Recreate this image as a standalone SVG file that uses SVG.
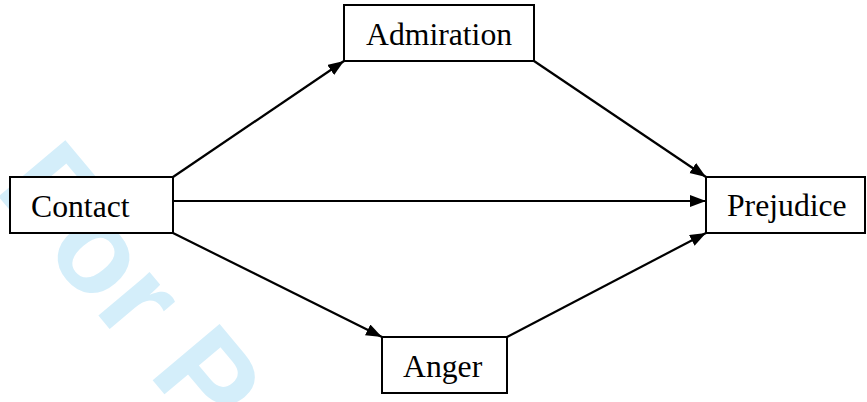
<svg xmlns="http://www.w3.org/2000/svg" width="867" height="402" viewBox="0 0 867 402">
<style>
.box{fill:#fff;stroke:#000;stroke-width:2}
.lbl{font-family:"Liberation Serif","Times New Roman",serif;font-size:31.7px;fill:#000}
.wm{font-family:"Liberation Sans",Arial,sans-serif;font-weight:bold;font-size:127px;fill:#d4eefa}
.edge{stroke:#000;stroke-width:2.2;fill:none;marker-end:url(#arr)}
</style>
<defs>
<marker id="arr" markerUnits="userSpaceOnUse" markerWidth="17" markerHeight="13" refX="16" refY="6" orient="auto">
<path d="M0,0 L16,6 L0,12 z" fill="#000"/>
</marker>
</defs>
<rect width="867" height="402" fill="#fff"/>
<text class="wm" transform="translate(-7,190) rotate(50)">For P</text>
<g id="connectors">
<path class="edge" d="M173,177 L344,61"/>
<path class="edge" d="M534,61 L706,177"/>
<path class="edge" d="M173,201 L706,201"/>
<path class="edge" d="M173,233 L382,337"/>
<path class="edge" d="M507,337 L706,233"/>
</g>
<g id="contact">
<rect class="box" x="10" y="177" width="163" height="56"/>
<text class="lbl" x="31" y="217">Contact</text>
</g>
<g id="admiration">
<rect class="box" x="344" y="5" width="190" height="56"/>
<text class="lbl" x="366" y="45">Admiration</text>
</g>
<g id="prejudice">
<rect class="box" x="706" y="177" width="159" height="56"/>
<text class="lbl" x="727" y="216">Prejudice</text>
</g>
<g id="anger">
<rect class="box" x="382" y="337" width="125" height="56"/>
<text class="lbl" x="403" y="377">Anger</text>
</g>
</svg>
